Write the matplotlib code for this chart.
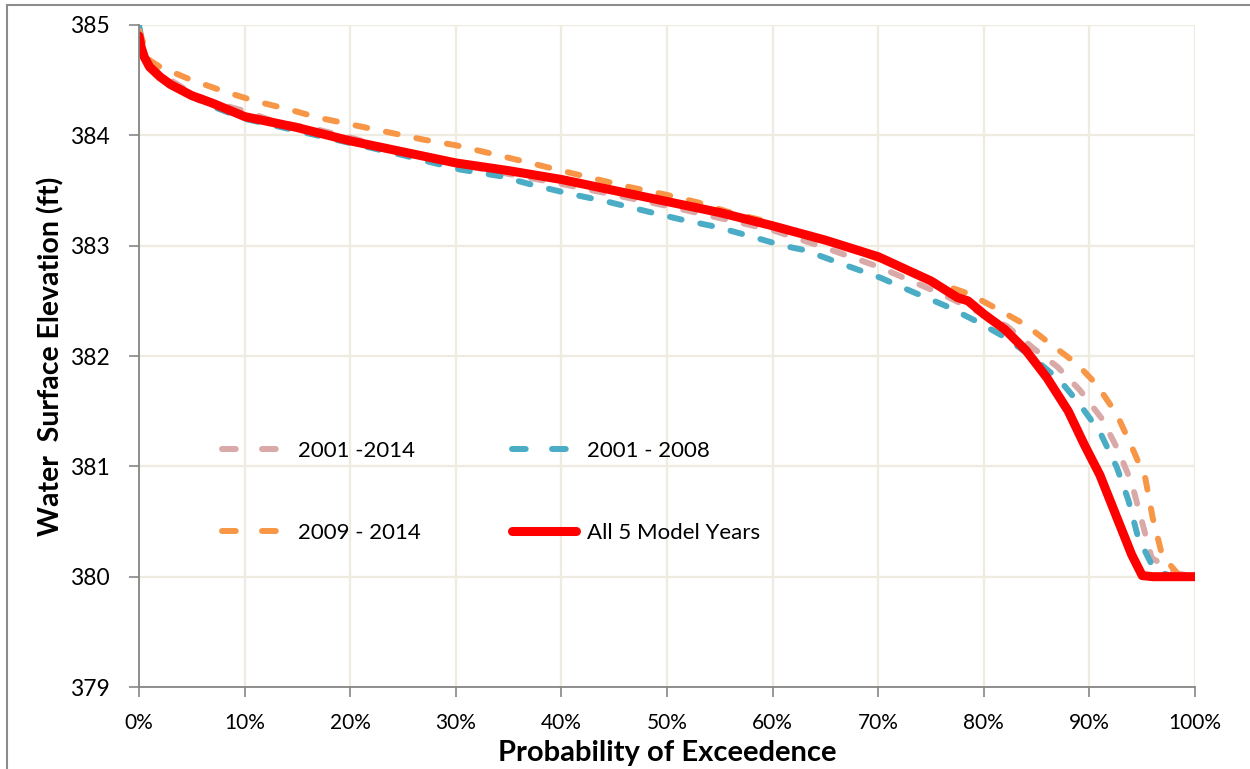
import numpy as np
import matplotlib.pyplot as plt
from matplotlib.patches import Rectangle
from matplotlib.lines import Line2D
from matplotlib.ticker import FuncFormatter

# exceedence probability (%) and water surface elevation (ft) for each period
p_all = [0, 0.2, 0.5, 1, 2, 3, 5, 7, 10, 15, 20, 25, 30, 35, 40, 45, 50, 55, 60, 65, 70,
         75, 77.5, 78.5, 80, 82, 84, 86, 88, 89.5, 91, 92.5, 94, 95, 96, 100]
z_all = [384.9, 384.8, 384.71, 384.62, 384.53, 384.46, 384.36, 384.29, 384.17, 384.07,
         383.95, 383.85, 383.75, 383.68, 383.6, 383.5, 383.4, 383.3, 383.18, 383.05,
         382.9, 382.68, 382.53, 382.5, 382.38, 382.24, 382.05, 381.8, 381.5, 381.2,
         380.92, 380.56, 380.2, 380.01, 380.0, 380.0]

p_01_14 = [0, 0.5, 1, 3, 5, 7, 10, 13, 17, 20, 23, 27, 30, 35, 40, 45, 50, 55, 60, 65,
           70, 76.5, 82.2, 84.7, 87, 89.1, 91.2, 92.7, 94, 95, 95.9, 98.3, 100]
z_01_14 = [384.92, 384.72, 384.63, 384.5, 384.38, 384.3, 384.22, 384.12, 384.05, 383.98,
           383.9, 383.82, 383.74, 383.65, 383.56, 383.46, 383.36, 383.25, 383.14, 382.98,
           382.81, 382.54, 382.27, 382.07, 381.9, 381.69, 381.43, 381.15, 380.85, 380.49,
           380.17, 380.03, 380.0]

p_01_08 = [0, 0.5, 1, 3, 5, 7, 10, 15, 20, 25, 30.4, 34.2, 37.3, 40.8, 44.3, 47.7, 51.2,
           54.7, 58.1, 61, 63, 65, 66.7, 70.2, 73.3, 76.5, 79.4, 82.2, 84.7, 87.2, 89.1,
           91, 92.6, 93.7, 94.6, 96, 97, 99.7]
z_01_08 = [385.0, 384.74, 384.6, 384.45, 384.35, 384.26, 384.15, 384.04, 383.93, 383.82,
           383.69, 383.63, 383.55, 383.47, 383.4, 383.32, 383.24, 383.17, 383.08, 383.0,
           382.96, 382.89, 382.83, 382.71, 382.58, 382.45, 382.31, 382.16, 381.98, 381.78,
           381.56, 381.31, 380.99, 380.69, 380.36, 380.09, 380.03, 379.95]

p_09_14 = [0, 1, 2, 5, 8, 11, 14, 17, 20, 24, 27, 30, 34, 37, 40, 43, 46.5, 50, 53, 56,
           59, 62, 65, 68, 70, 73, 76, 78.7, 81.2, 84, 86.3, 88.8, 90.7, 92.6, 94, 95.3,
           96, 96.9, 98.6, 100]
z_09_14 = [384.95, 384.68, 384.62, 384.5, 384.4, 384.31, 384.24, 384.16, 384.1, 384.02,
           383.96, 383.91, 383.82, 383.75, 383.68, 383.61, 383.53, 383.46, 383.39, 383.3,
           383.23, 383.13, 383.05, 382.95, 382.88, 382.76, 382.65, 382.56, 382.43, 382.28,
           382.11, 381.93, 381.74, 381.47, 381.18, 380.89, 380.53, 380.19, 380.0, 380.0]

x_ticks = np.arange(0, 101, 10)
y_ticks = np.arange(379, 386, 1)

c_pink, c_blue, c_orange, c_red = '#D9A9A8', '#4BACC6', '#F79646', '#FF0000'

fig = plt.figure(figsize=(12.5, 7.69), dpi=100)
ax = fig.add_axes([0.1112, 0.1066, 0.8448, 0.8609])

dash = dict(lw=4.3, dashes=(2.0, 3.2), dash_capstyle='round')
ax.plot(p_01_14, z_01_14, color=c_pink, **dash)
ax.plot(p_01_08, z_01_08, color=c_blue, **dash)
ax.plot(p_09_14, z_09_14, color=c_orange, **dash)
ax.plot(p_all, z_all, color=c_red, lw=6.5, solid_capstyle='round',
        solid_joinstyle='round')

ax.set_xlim(0, 100)
ax.set_ylim(379, 385)
ax.set_xticks(x_ticks)
ax.set_yticks(y_ticks)
ax.xaxis.set_major_formatter(FuncFormatter(lambda v, _: '%d%%' % v))
ax.grid(True, color='#EEECE1', lw=1.6)
ax.set_axisbelow(True)
for s in ['top', 'right']:
    ax.spines[s].set_visible(False)
for s in ['left', 'bottom']:
    ax.spines[s].set_color('#868686')
    ax.spines[s].set_linewidth(1.3)
ax.tick_params(axis='both', color='#868686', length=7, width=1.2)
ax.tick_params(axis='x', pad=12)
ax.tick_params(axis='y', pad=14)

narrow = ['Liberation Sans Narrow', 'Lato', 'DejaVu Sans']
for t in ax.get_xticklabels():
    t.set_family(narrow)
    t.set_fontsize(15)
for t in ax.get_yticklabels():
    t.set_family(['Lato', 'DejaVu Sans'])
    t.set_fontsize(16.5)

ax.set_xlabel('Probability of Exceedence', family=narrow, fontsize=21,
              fontweight='bold', labelpad=5)
ax.set_ylabel('Water  Surface Elevation (ft)', family=narrow, fontsize=20.5,
              fontweight='bold', labelpad=4)

# legend handles: two dashes per entry
ldash = dict(lw=4.3, dashes=(2.3, 4.4), dash_capstyle='round')
handles = [Line2D([], [], color=c_pink, **ldash),
           Line2D([], [], color=c_orange, **ldash),
           Line2D([], [], color=c_blue, **ldash),
           Line2D([], [], color=c_red, lw=6.5, solid_capstyle='round')]
labels = ['2001 -2014', '2009 - 2014', '2001 - 2008', 'All 5 Model Years']
ax.legend(handles, labels, ncol=2, loc='center left',
          bbox_to_anchor=(0.06, 0.295), frameon=False,
          prop={'family': ['Lato', 'DejaVu Sans'], 'size': 16},
          handlelength=2.9, handletextpad=0.5, columnspacing=4.1,
          labelspacing=2.8)

# outer chart frame
fig.patches.append(Rectangle((7 / 1250, -0.05), 1.2, 1 - 5 / 769 + 0.05,
                             transform=fig.transFigure, fill=False,
                             ec='#8C8C8C', lw=1.5))

fig.savefig('out.png', dpi=100)
